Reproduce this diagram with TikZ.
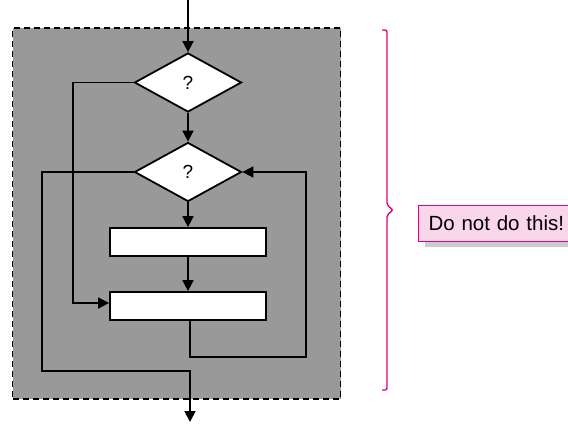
\documentclass[tikz,border=0pt]{standalone}
\usepackage{fontspec}
\setmainfont{Liberation Sans}
\usetikzlibrary{shapes.geometric,arrows.meta,shadows,calc}
\definecolor{boxgray}{RGB}{153,153,153}
\definecolor{magentaline}{RGB}{230,0,126}
\definecolor{notepink}{RGB}{249,214,234}
\tikzset{
  flow/.style={line width=1.8pt, -{Triangle[length=11pt,width=11pt]}},
  decision/.style={diamond, draw, line width=1.8pt, fill=white, inner sep=0pt,
    minimum width=107pt, minimum height=59pt, font=\fontsize{19}{21}\selectfont},
  process/.style={rectangle, draw, line width=1.8pt, fill=white, inner sep=0pt,
    minimum width=156pt, minimum height=28pt},
  notebox/.style={rectangle, draw=magentaline, line width=1pt, fill=notepink,
    anchor=west, minimum height=36pt, minimum width=160pt, inner xsep=10pt, align=left,
    text width=140pt,
    font=\fontsize{20.5}{22}\selectfont,
    drop shadow={shadow xshift=6pt, shadow yshift=-6pt, fill=gray!40, opacity=1}},
  bracestyle/.style={draw=magentaline, line width=1.4pt, rounded corners=2pt}
}
\begin{document}
\begin{tikzpicture}[x=1pt,y=-1pt]
\useasboundingbox (0,0) rectangle (568,424);
% background box
\node[draw, line width=1.6pt, fill=boxgray, inner sep=0pt,
  minimum width=328pt, minimum height=371pt, dash pattern=on 6pt off 4pt] (frame) at (176.5,213.6) {};
% nodes
\coordinate (start) at (188,0);
\node[decision] (d1) at (188,82.5) {?};
\node[decision] (d2) at (188,172) {?};
\node[process] (r1) at (188,242) {};
\node[process] (r2) at (188,306) {};
\coordinate (l1) at (73,82.5);
\coordinate (l1b) at (73,303);
\coordinate (l2) at (42,172);
\coordinate (l2b) at (42,371);
\coordinate (l2c) at (190,371);
\coordinate (finish) at (190,422);
\coordinate (r2out) at (190,320);
\coordinate (lp1) at (190,357);
\coordinate (lp2) at (306,357);
\coordinate (lp3) at (306,172);
% connectors
\draw[flow] (start) -- (d1.north);
\draw[flow] (d1.south) -- (d2.north);
\draw[flow] (d2.south) -- (r1.north);
\draw[flow] (r1.south) -- (r2.north);
\draw[flow] (d1.west) -- (l1) -- (l1b) -- (l1b -| r2.west);
\draw[flow] (d2.west) -- (l2) -- (l2b) -- (l2c) -- (finish);
\draw[flow] (r2out) -- (lp1) -- (lp2) -- (lp3) -- (d2.east);
% brace and note
\coordinate (bt) at (382,30);
\coordinate (btip) at (393,210);
\coordinate (bb) at (382,390);
\path[bracestyle] (bt) -- (387,30) -- (387,205) -- (btip) -- (387,215) -- (387,390) -- (bb);
\node[notebox] (note) at (418,223) {Do not do this!};
\end{tikzpicture}
\end{document}
